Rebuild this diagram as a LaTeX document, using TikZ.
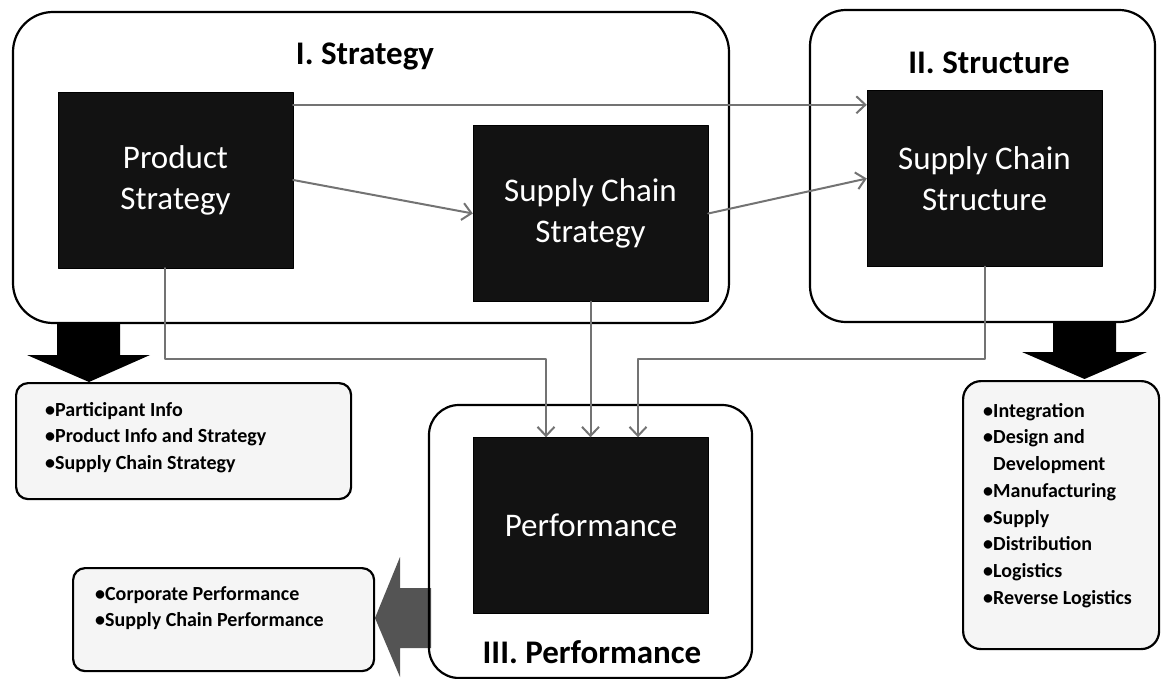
\documentclass[tikz,border=0pt]{standalone}
\usepackage{fontspec}
\setmainfont{Carlito}
\usetikzlibrary{arrows.meta}
\definecolor{wwwwww}{rgb}{0.45,0.45,0.45}
\definecolor{zzzzzz}{rgb}{0.33,0.33,0.33}
\definecolor{qqqqqq}{rgb}{0.07,0.07,0.07}
\definecolor{ffffff}{rgb}{0.96,0.96,0.96}
\tikzset{
  blackbox/.style={fill=qqqqqq,draw=black,text=white,minimum width=235pt,minimum height=176pt,align=center,font=\fontsize{33}{41}\selectfont},
  conn/.style={draw=wwwwww,line width=2pt,-{Straight Barb[length=9pt,width=17pt]}},
  frame/.style={draw,line width=2.2pt},
  title/.style={font=\fontsize{33}{40}\selectfont\bfseries},
  listbox/.style={draw,line width=2.2pt,fill=ffffff,anchor=north west},
  listtext/.style={align=left,inner sep=0pt,anchor=north west,font=\fontsize{20}{26.7}\selectfont\bfseries}
}
\begin{document}
\begin{tikzpicture}[x=1pt,y=-1pt,line cap=round,line join=round]
\useasboundingbox (0,0) rectangle (1161,679);
\draw[frame,rounded corners=40pt] (13,12) rectangle (729,323);
\draw[frame,rounded corners=36pt] (810,10) rectangle (1155,322);
\fill[color=zzzzzz] (431,588) -- (400,588) -- (400,557) -- (375,618) -- (400,677) -- (400,648) -- (431,648) -- cycle;
\draw[frame,rounded corners=30pt] (429,405) rectangle (752,678);
\fill (57,323) -- (120,323) -- (120,355) -- (150,355) -- (89,382) -- (27,355) -- (57,355) -- cycle;
\fill (1053,322) -- (1116,322) -- (1116,352) -- (1147,352) -- (1084.5,379) -- (1022,352) -- (1053,352) -- cycle;
\node[title,anchor=base] (t1) at (365,65) {I. Strategy};
\node[title,anchor=base] (t2) at (989,74) {II. Structure};
\node[title,anchor=base] (t3) at (592,663) {III. Performance};
\node[blackbox] (prod) at (175.5,180) {Product\\Strategy};
\node[blackbox] (scs) at (590.5,213.5) {Supply Chain\\Strategy};
\node[blackbox] (scst) at (984.5,178.5) {Supply Chain\\Structure};
\node[blackbox] (perf) at (591,525.5) {Performance};
\draw[conn] ([yshift=-13pt]prod.north east) -- ([yshift=-14.5pt]scst.north west);
\draw[conn] (prod.east) -- (scs.west);
\draw[conn] (scs.east) -- (scst.west);
\draw[conn] ([xshift=-10.5pt]prod.south) -- ++(0,91) -| ([xshift=-45pt]perf.north);
\draw[conn] (scs.south) -- (scs.south |- perf.north);
\draw[conn] (scst.south) -- ++(0,92) -| ([xshift=47pt]perf.north);
\node[listbox,rounded corners=12pt,minimum width=335pt,minimum height=116pt] (plist) at (15,382) {};
\node[listtext] (ptext) at (45,402) {•Participant Info\\•Product Info and Strategy\\•Supply Chain Strategy};
\node[listbox,rounded corners=18pt,minimum width=196pt,minimum height=268pt] (slist) at (962,380) {};
\node[listtext] (stext) at (983,403) {•Integration\\•Design and\\\hphantom{•}Development\\•Manufacturing\\•Supply\\•Distribution\\•Logistics\\•Reverse Logistics};
\node[listbox,rounded corners=12pt,minimum width=301pt,minimum height=103pt] (clist) at (72,567) {};
\node[listtext] (ctext) at (95,586) {•Corporate Performance\\•Supply Chain Performance};
\end{tikzpicture}
\end{document}
